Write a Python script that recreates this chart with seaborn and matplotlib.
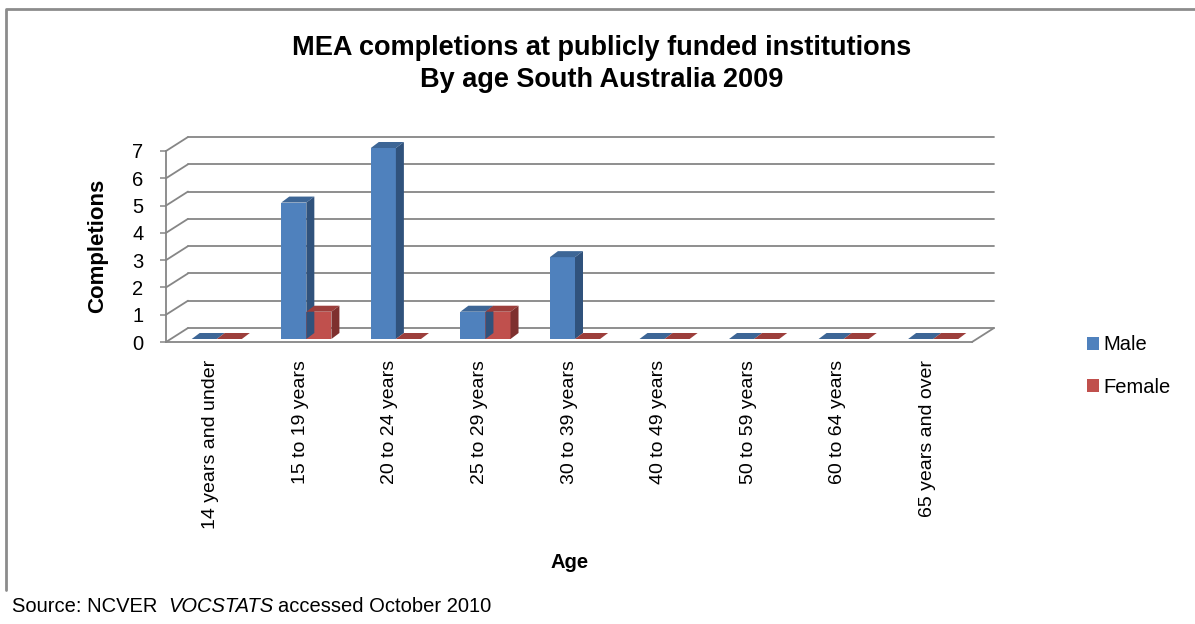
import numpy as np
import pandas as pd
import matplotlib.pyplot as plt
import matplotlib.transforms as mtransforms
from matplotlib.lines import Line2D
from matplotlib.patches import Polygon, Patch
import seaborn as sns

categories = ["14 years and under", "15 to 19 years", "20 to 24 years", "25 to 29 years",
              "30 to 39 years", "40 to 49 years", "50 to 59 years", "60 to 64 years",
              "65 years and over"]
male = [0, 5, 7, 1, 3, 0, 0, 0, 0]
female = [0, 1, 0, 1, 0, 0, 0, 0, 0]
series = ["Male", "Female"]
yticks = [0, 1, 2, 3, 4, 5, 6, 7]

front_cols = ["#4F81BD", "#C0504D"]
top_cols = ["#3D6696", "#9C3E3B"]
side_cols = ["#30527C", "#7E302E"]
grid_col = "#868686"

df = pd.DataFrame({
    "Age": categories * 2,
    "Completions": male + female,
    "Sex": ["Male"] * len(categories) + ["Female"] * len(categories),
})

sns.set_theme(style="white")
plt.rcParams["font.family"] = ["Liberation Sans", "DejaVu Sans"]
plt.rcParams["text.color"] = "black"

W, H = 1195, 624
fig = plt.figure(figsize=(W / 100, H / 100), dpi=100)
# front face of the 3D box in pixels
L, R, B, T = 166, 972, 342, 151
ax = fig.add_axes([L / W, 1 - B / H, (R - L) / W, (B - T) / H])

sns.barplot(data=df, x="Age", y="Completions", hue="Sex", palette=front_cols,
            width=0.56, saturation=1, dodge=True, legend=False, ax=ax,
            linewidth=0, edgecolor="none", err_kws={"linewidth": 0})
ax.set_xlim(-0.5, len(categories) - 0.5)
ax.set_ylim(0, 7)
ax.set_yticks(yticks)
ax.set_xlabel("")
ax.set_ylabel("")

# back wall offset (pixels)
DX, DY = 22, 14
back = ax.transData + mtransforms.ScaledTranslation(DX / 100, DY / 100, fig.dpi_scale_trans)
ident = mtransforms.IdentityTransform()
xl = ax.get_xlim()
for k in yticks:
    ax.plot(xl, [k, k], transform=back, color=grid_col, lw=1.3, clip_on=False, zorder=0.5)
    p0 = ax.transData.transform((xl[0], k))
    fig.add_artist(Line2D([p0[0], p0[0] + DX], [p0[1], p0[1] + DY], transform=ident,
                          color=grid_col, lw=1.3, zorder=1))
p0 = ax.transData.transform((xl[1], 0))
fig.add_artist(Line2D([p0[0], p0[0] + DX], [p0[1], p0[1] + DY], transform=ident,
                      color=grid_col, lw=1.3, zorder=1))

# bar faces: shift bars back a little and add top/side faces
shift = ax.transData + mtransforms.ScaledTranslation(0.06, 0.03, fig.dpi_scale_trans)
d = np.array([8, 6])
for i, cont in enumerate(ax.containers):
    for rect in cont.patches:
        rect.set_transform(shift)
        rect.set_clip_on(False)
        rect.set_zorder(3 + i)
        x0, w, h = rect.get_x(), rect.get_width(), rect.get_height()
        a = shift.transform((x0, h))
        b = shift.transform((x0 + w, h))
        c = shift.transform((x0 + w, 0))
        fig.add_artist(Polygon([a, b, b + d, a + d], closed=True, transform=ident,
                               facecolor=top_cols[i], edgecolor="none", zorder=3 + i))
        if h > 0:
            fig.add_artist(Polygon([b, c, c + d, b + d], closed=True, transform=ident,
                                   facecolor=side_cols[i], edgecolor="none", zorder=3 + i))

sns.despine(ax=ax, top=True, right=True)
for s in ["left", "bottom"]:
    ax.spines[s].set_color(grid_col)
    ax.spines[s].set_linewidth(1.3)
ax.tick_params(axis="y", left=True, length=4.3, width=1.1, color=grid_col,
               pad=12, labelsize=14.5, labelcolor="black")
ax.tick_params(axis="x", bottom=False, length=0, pad=13, labelsize=14, labelcolor="black")
ax.set_xticks(range(len(categories)))
ax.set_xticklabels(categories, rotation=90, va="top", ha="center")

fig.text(602 / W, 1 - 64 / H,
         "MEA completions at publicly funded institutions\nBy age South Australia 2009",
         ha="center", va="center", fontsize=19.5, fontweight="bold", linespacing=1.3)
fig.text(98 / W, 1 - 246 / H, "Completions", rotation=90, ha="center", va="center",
         fontsize=16, fontweight="bold")
fig.text(570 / W, 1 - 563 / H, "Age", ha="center", va="center", fontsize=14.5, fontweight="bold")

handles = [Patch(facecolor=c, edgecolor="none") for c in front_cols]
fig.legend(handles, series, loc="center left", bbox_to_anchor=(1087 / W, 1 - 366 / H),
           frameon=False, fontsize=14.5, handlelength=0.6, handleheight=0.6,
           handletextpad=0.2, labelspacing=1.15, borderaxespad=0, borderpad=0)

# source line with italic word
renderer = fig.canvas.get_renderer()
t1 = fig.text(12 / W, 1 - 606 / H, "Source: NCVER", ha="left", va="center", fontsize=14.5)
x = t1.get_window_extent(renderer).x1 + 11
t2 = fig.text(x / W, 1 - 606 / H, "VOCSTATS", ha="left", va="center", fontsize=14.5, style="italic")
x = t2.get_window_extent(renderer).x1 + 5
fig.text(x / W, 1 - 606 / H, "accessed October 2010", ha="left", va="center", fontsize=14.5)

# chart border (top and left visible)
fig.add_artist(Line2D([6, 6, W], [H - 590, H - 9, H - 9], transform=ident,
                      color="#8C8C8C", lw=2))

fig.savefig("out.png", dpi=100)
